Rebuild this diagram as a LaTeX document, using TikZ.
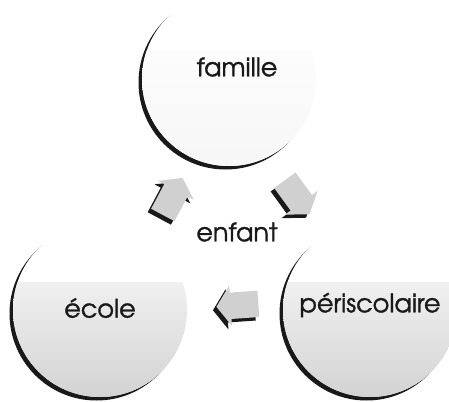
\documentclass[tikz,border=0pt]{standalone}
\usepackage{fontspec}
\setmainfont{texgyreadventor-regular.otf}[FakeBold=1.2]
\usepackage{tikz}
\usetikzlibrary{positioning,calc,shapes.arrows,shadows}
\definecolor{ink}{RGB}{25,25,25}
\definecolor{stip}{RGB}{150,150,150}
\tikzset{
  shd/.style={drop shadow={shadow xshift=-3.5pt,shadow yshift=-3.5pt,fill=ink,opacity=1}},
  circ/.style={circle,fill=white,minimum size=174pt,inner sep=0pt,shd,
    path picture={\shade[top color=white,middle color=stip!#1,bottom color=stip!#1]
      ([yshift=28pt]path picture bounding box.west) rectangle (path picture bounding box.south east);}},
  word/.style={font=\fontsize{25.5}{30}\selectfont,text=ink,inner sep=1pt},
  cyc/.style={single arrow,fill=stip!45,minimum height=42pt,minimum width=40pt,
    single arrow head extend=7pt,single arrow tip angle=110,inner xsep=0pt,inner ysep=13pt,
    shd,rotate=#1},
}

\begin{document}
\begin{tikzpicture}[x=1pt,y=-1pt]
  \useasboundingbox (0,0) rectangle (449,401);
  % the three circles
  \node[circ=8] (famille) at (229,79) {};
  \node[word] (tfam) at ([shift={(8pt,12pt)}]famille.center) {famille};
  \node[circ=42] (ecole) at (100,310) {};
  \node[word] (tecole) at ([shift={(0pt,2pt)}]ecole.center) {école};
  \node[circ=42] (peri) at (370,310) {};
  \node[word] (tperi) at ([shift={(0pt,5pt)}]peri.center) {périscolaire};

  % centre
  \node[word] (enfant) at ([shift={(4pt,1pt)}]barycentric cs:famille=1,ecole=1,peri=1) {enfant};

  % arrows of the cycle
  \node[cyc=62] (a1) at ([shift={(6pt,-6pt)}]$(ecole)!0.5!(famille)$) {};
  \node[cyc=-54] (a2) at ([shift={(-5pt,1pt)}]$(famille)!0.5!(peri)$) {};
  \node[cyc=184] (a3) at ([shift={(7pt,5pt)}]$(ecole)!0.5!(peri)$) {};
\end{tikzpicture}
\end{document}
